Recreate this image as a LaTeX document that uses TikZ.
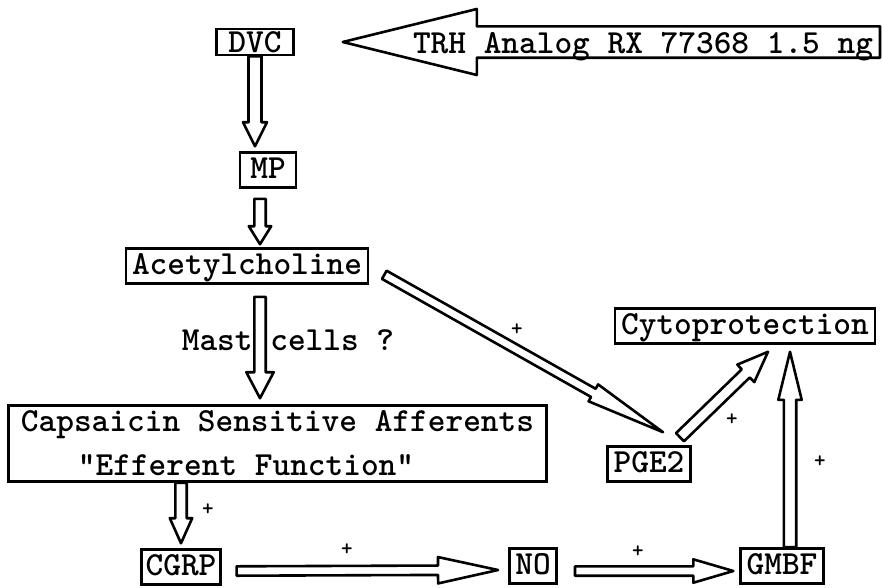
\documentclass[tikz,border=0pt]{standalone}
\usepackage{tikz}
\usetikzlibrary{calc}

% hollow block arrow: from, to, shaft half width, head half width, head length
\newcommand{\fatarrow}[5]{%
  \coordinate (fa-s) at (#1);
  \coordinate (fa-t) at (#2);
  \coordinate (fa-h) at ($(fa-t)!#5!(fa-s)$);
  \draw[fat] ($(fa-s)!#3!90:(fa-t)$) -- ($(fa-h)!#3!90:(fa-t)$)
    -- ($(fa-h)!#4!90:(fa-t)$) -- (fa-t)
    -- ($(fa-h)!#4!-90:(fa-t)$) -- ($(fa-h)!#3!-90:(fa-t)$)
    -- ($(fa-s)!#3!-90:(fa-t)$) -- cycle;
}

\begin{document}
\begin{tikzpicture}[x=1pt, y=-1pt,
    every node/.style={font=\ttfamily\bfseries\fontsize{33.7}{44}\selectfont},
    box/.style={draw, line width=2.6pt, inner xsep=6pt, inner ysep=5pt,
      text height=21pt, text depth=4pt},
    fat/.style={draw, fill=white, line width=2.6pt, line join=round},
    plus/.style={font=\ttfamily\bfseries\fontsize{22}{24}\selectfont, inner sep=0pt}]
  \useasboundingbox (0,0) rectangle (882,587);

  \node[box, minimum width=77pt, inner ysep=2pt, text depth=1pt] (dvc) at (255,42) {DVC};
  \node[box, minimum width=56pt] (mp) at (268,170) {MP};
  \node[box] (ach) at (247,266) {Acetylcholine};
  \node[draw, line width=2.6pt, align=left, minimum width=538pt,
    minimum height=76pt] (csa) at (277.5,443.5)
    {Capsaicin Sensitive Afferents\\\hspace*{57pt}"Efferent Function"};
  \node[box, inner xsep=4pt] (cgrp) at (181,567) {CGRP};
  \node[box] (no) at (533,566) {NO};
  \node[box] (gmbf) at (782,566) {GMBF};
  \node[box] (pge2) at (649,464) {PGE2};
  \node[box] (cyto) at (745,326) {Cytoprotection};

  % big input arrow
  \coordinate (trhend) at (880,42);
  \fatarrow{trhend}{[xshift=48pt]dvc.east}{15.7pt}{33pt}{134pt}
  \node[anchor=base] (trh) at (643,53) {TRH Analog RX 77368 1.5 ng};

  \fatarrow{dvc.south}{[yshift=5pt]dvc.south |- mp.north}{6.5pt}{12pt}{24pt}
  \fatarrow{[xshift=-8pt,yshift=-10pt]mp.south}{[xshift=-8pt,yshift=3pt]mp.south |- ach.north}{5.7pt}{11.2pt}{18pt}
  \fatarrow{[xshift=13pt,yshift=-12pt]ach.south}{[xshift=13pt,yshift=6pt]ach.south |- csa.north}{5.7pt}{13.7pt}{26pt}
  \fatarrow{cgrp.north |- csa.south}{[yshift=5pt]cgrp.north}{5.7pt}{11.2pt}{25pt}
  \fatarrow{[xshift=15pt,yshift=-4pt]cgrp.east}{[xshift=-10pt,yshift=-4pt]no.west}{4.7pt}{13.2pt}{60pt}
  \fatarrow{[xshift=17pt,yshift=-5pt]no.east}{[xshift=-6pt,yshift=-5pt]gmbf.west}{4.7pt}{11.7pt}{40pt}
  \fatarrow{[xshift=8pt]gmbf.north}{[xshift=8pt,yshift=-7pt]gmbf.north |- cyto.south}{6.2pt}{11.7pt}{48pt}
  \fatarrow{[xshift=15pt,yshift=10pt]ach.south east}{[xshift=14pt,yshift=13pt]pge2.north}{4.7pt}{9.7pt}{80pt}
  \fatarrow{[xshift=31pt,yshift=8pt]pge2.north}{[xshift=23pt,yshift=-7pt]cyto.south}{5.7pt}{12.2pt}{31pt}

  \node[anchor=base] (mast) at (288,350) {Mast cells ?};

  \node[plus] (plus1) at (208,510) {+};
  \node[plus] (plus2) at (347,550) {+};
  \node[plus] (plus3) at (638,552) {+};
  \node[plus] (plus4) at (517,330) {+};
  \node[plus] (plus5) at (732,420) {+};
  \node[plus] (plus6) at (820,462) {+};
\end{tikzpicture}
\end{document}
